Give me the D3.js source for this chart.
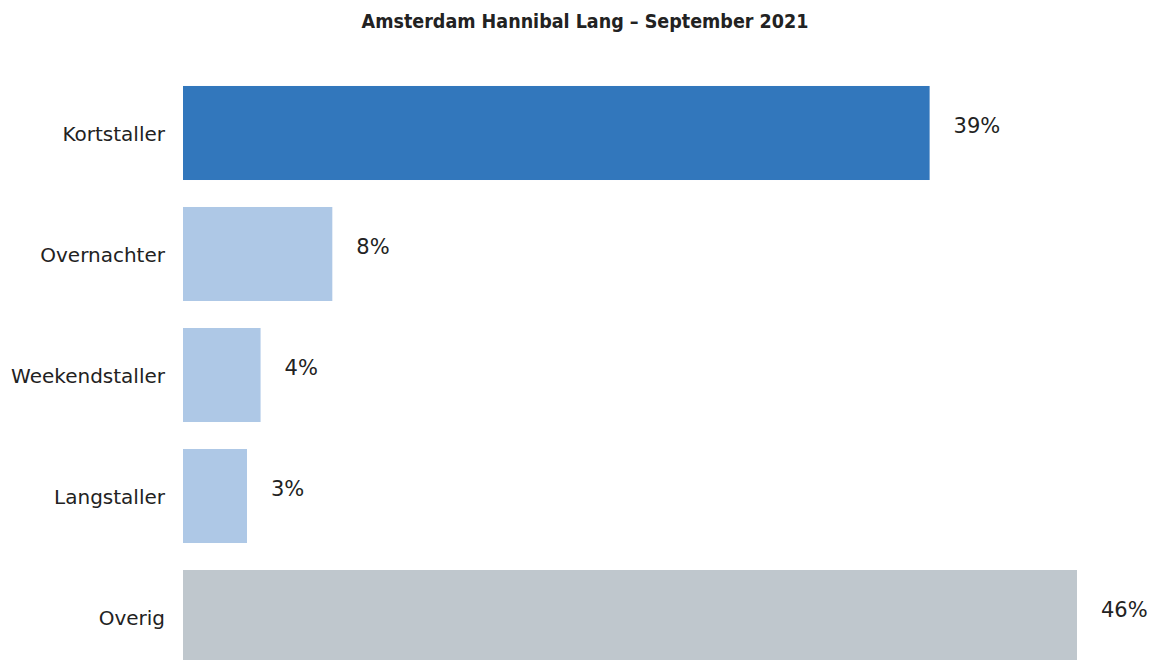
<!DOCTYPE html>
<html>
<head>
<meta charset="utf-8">
<script src="https://cdn.jsdelivr.net/npm/d3@7"></script>
<style>
  body { margin: 0; background: #fff; }
  svg { display: block; }
</style>
</head>
<body>
<svg id="chart"></svg>
<script>
const width = 1154;
const height = 660;

const categories = ['Kortstaller', 'Overnachter', 'Weekendstaller', 'Langstaller', 'Overig'];
const values = [38.5, 7.7, 4.0, 3.3, 46.1];
const valueLabels = ['39%', '8%', '4%', '3%', '46%'];
const barColors = ['#3277bc', '#aec8e6', '#aec8e6', '#aec8e6', '#bfc7cd'];

const data = categories.map((c, i) => ({ cat: c, value: values[i], label: valueLabels[i], color: barColors[i] }));

const svg = d3.select('#chart')
    .attr('width', width)
    .attr('height', height);

const xScale = d3.scaleLinear()
    .domain([0, d3.max(values)])
    .range([183, 1077]);

const yScale = d3.scaleBand()
    .domain(categories)
    .range([59, 691])
    .paddingInner(0.223)
    .paddingOuter(0.223);

// category labels
const yAxis = d3.axisLeft(yScale).tickSize(0).tickPadding(18);
svg.append('g')
    .attr('transform', 'translate(183,2)')
    .call(yAxis)
    .call(g => g.select('.domain').remove())
    .selectAll('text')
    .style('font-family', 'DejaVu Sans')
    .style('font-size', '20px')
    .attr('fill', '#222');

svg.selectAll('rect.bar')
    .data(data)
    .enter()
    .append('rect')
    .attr('class', 'bar')
    .attr('x', xScale(0))
    .attr('y', d => yScale(d.cat))
    .attr('width', d => xScale(d.value) - xScale(0))
    .attr('height', yScale.bandwidth())
    .attr('fill', d => d.color);

svg.selectAll('text.val')
    .data(data)
    .enter()
    .append('text')
    .attr('class', 'val')
    .attr('x', d => xScale(d.value) + 24)
    .attr('y', d => yScale(d.cat) + yScale.bandwidth() / 2 - 7)
    .attr('dy', '0.35em')
    .style('font-family', 'DejaVu Sans')
    .style('font-size', '21px')
    .attr('fill', '#222')
    .text(d => d.label);

svg.append('text')
    .attr('x', 585)
    .attr('y', 28)
    .style('text-anchor', 'middle')
    .style('font-family', 'DejaVu Sans Condensed')
    .style('font-weight', 'bold')
    .style('font-size', '19.5px')
    .attr('fill', '#222')
    .text('Amsterdam Hannibal Lang – September 2021');
</script>
</body>
</html>
